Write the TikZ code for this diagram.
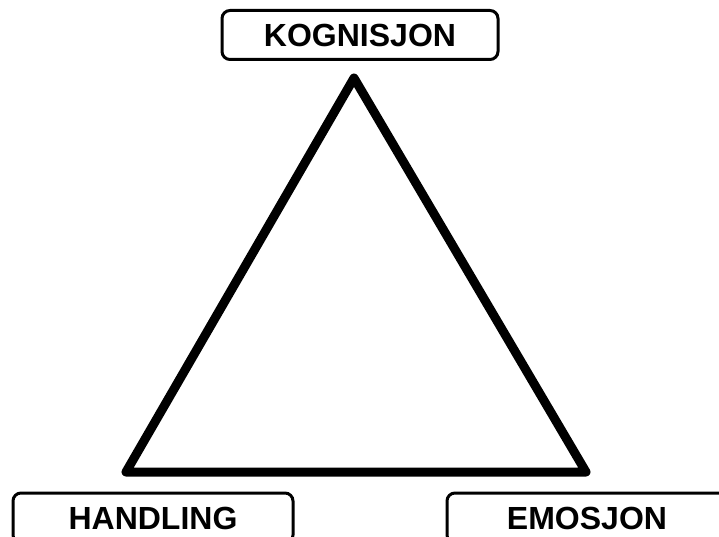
\documentclass[tikz,border=0pt]{standalone}
\usepackage{fontspec}
\setmainfont{Liberation Sans}
\usepackage{tikz}
\usetikzlibrary{positioning}
\definecolor{boxline}{HTML}{000000}

\begin{document}
\begin{tikzpicture}[x=1pt,y=-1pt,
  labelbox/.style={rectangle, rounded corners=8pt, draw=boxline, line width=3pt, fill=white, minimum width=276pt, minimum height=49pt, inner sep=0pt, font=\fontsize{32}{36}\selectfont\bfseries},
  sideline/.style={line width=9pt, line join=round, line cap=round}]
\useasboundingbox (0,0) rectangle (719,537);
\clip (0,0) rectangle (719,537);
\coordinate (apex) at (354,78);
\coordinate (leftc) at (126,472);
\coordinate (rightc) at (586,472);
\draw[sideline] (apex) -- (leftc) -- (rightc) -- cycle;
\node[labelbox] (kog) at (360,35) {KOGNISJON};
\node[labelbox, minimum width=280pt, minimum height=50pt] (han) at (153,518) {HANDLING};
\node[labelbox, minimum width=280pt, minimum height=50pt] (emo) at (587,518) {EMOSJON};
\end{tikzpicture}
\end{document}
